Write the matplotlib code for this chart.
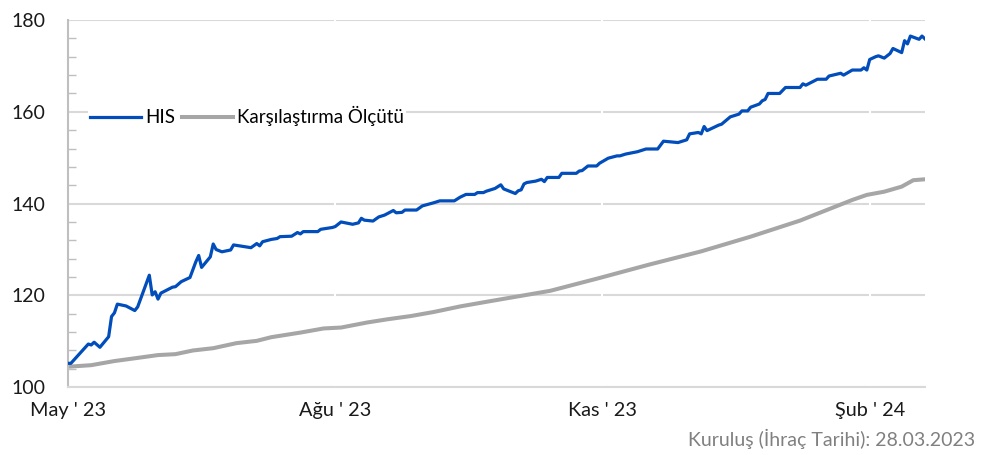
import numpy as np
import pandas as pd
import matplotlib
matplotlib.use("Agg")
import matplotlib.pyplot as plt
from matplotlib.ticker import MultipleLocator

plt.rcParams['font.family'] = ['Lato', 'DejaVu Sans']

# HIS fon fiyati
his_tarih = [
    "2023-05-01", "2023-05-02", "2023-05-04", "2023-05-08", "2023-05-09", "2023-05-10",
    "2023-05-12", "2023-05-15", "2023-05-16", "2023-05-17", "2023-05-18", "2023-05-21",
    "2023-05-24", "2023-05-25", "2023-05-29", "2023-05-30", "2023-05-31", "2023-06-01",
    "2023-06-02", "2023-06-06", "2023-06-07", "2023-06-09", "2023-06-12", "2023-06-14",
    "2023-06-15", "2023-06-16", "2023-06-19", "2023-06-20", "2023-06-21", "2023-06-23",
    "2023-06-26", "2023-06-27", "2023-07-03", "2023-07-05", "2023-07-06", "2023-07-07",
    "2023-07-10", "2023-07-12", "2023-07-13", "2023-07-17", "2023-07-19", "2023-07-20",
    "2023-07-21", "2023-07-26", "2023-07-27", "2023-07-31", "2023-08-01", "2023-08-03",
    "2023-08-07", "2023-08-09", "2023-08-10", "2023-08-11", "2023-08-14", "2023-08-16",
    "2023-08-18", "2023-08-21", "2023-08-22", "2023-08-24", "2023-08-25", "2023-08-29",
    "2023-08-31", "2023-09-04", "2023-09-06", "2023-09-11", "2023-09-13", "2023-09-15",
    "2023-09-18", "2023-09-19", "2023-09-21", "2023-09-22", "2023-09-25", "2023-09-27",
    "2023-09-28", "2023-10-02", "2023-10-03", "2023-10-04", "2023-10-05", "2023-10-06",
    "2023-10-09", "2023-10-11", "2023-10-12", "2023-10-13", "2023-10-17", "2023-10-18",
    "2023-10-23", "2023-10-24", "2023-10-25", "2023-10-27", "2023-10-30", "2023-10-31",
    "2023-11-03", "2023-11-06", "2023-11-07", "2023-11-09", "2023-11-13", "2023-11-14",
    "2023-11-16", "2023-11-20", "2023-11-22", "2023-11-27", "2023-11-28", "2023-11-30",
    "2023-12-01", "2023-12-04", "2023-12-05", "2023-12-06", "2023-12-07", "2023-12-11",
    "2023-12-12", "2023-12-15", "2023-12-18", "2023-12-19", "2023-12-21", "2023-12-22",
    "2023-12-25", "2023-12-26", "2023-12-27", "2023-12-28", "2024-01-01", "2024-01-03",
    "2024-01-08", "2024-01-09", "2024-01-10", "2024-01-14", "2024-01-17", "2024-01-18",
    "2024-01-22", "2024-01-23", "2024-01-26", "2024-01-29", "2024-01-30", "2024-01-31",
    "2024-02-01", "2024-02-03", "2024-02-04", "2024-02-06", "2024-02-08", "2024-02-09",
    "2024-02-12", "2024-02-13", "2024-02-14", "2024-02-15", "2024-02-18", "2024-02-19",
    "2024-02-20",
]
his_deger = [
    105.2, 105.2, 106.6, 109.4, 109.2, 109.8,
    108.7, 111.0, 115.4, 116.2, 118.1, 117.7,
    116.7, 117.5, 124.4, 120.1, 120.8, 119.2,
    120.5, 121.8, 121.9, 123.0, 123.9, 127.3,
    128.7, 126.1, 128.4, 131.2, 130.0, 129.5,
    129.9, 131.0, 130.4, 131.3, 130.8, 131.7,
    132.2, 132.4, 132.8, 132.9, 133.7, 133.4,
    133.9, 133.9, 134.4, 134.8, 135.0, 136.0,
    135.5, 135.8, 136.8, 136.4, 136.2, 137.1,
    137.5, 138.5, 138.0, 138.1, 138.6, 138.6,
    139.5, 140.2, 140.6, 140.6, 141.4, 142.0,
    142.0, 142.4, 142.4, 142.7, 143.3, 144.1,
    143.2, 142.2, 142.8, 143.0, 144.3, 144.6,
    144.9, 145.3, 144.8, 145.7, 145.7, 146.6,
    146.6, 147.1, 147.2, 148.2, 148.2, 148.8,
    149.9, 150.4, 150.4, 150.8, 151.3, 151.5,
    151.9, 151.9, 153.6, 153.3, 153.5, 153.9,
    155.2, 155.5, 155.2, 156.8, 155.9, 157.1,
    157.3, 158.9, 159.5, 160.2, 160.2, 161.0,
    161.7, 162.4, 162.7, 164.0, 164.0, 165.3,
    165.3, 166.1, 165.8, 167.1, 167.1, 167.8,
    168.4, 168.0, 169.1, 169.1, 169.6, 169.1,
    171.4, 172.0, 172.2, 171.7, 172.7, 173.8,
    172.9, 175.5, 174.8, 176.5, 175.8, 176.5,
    175.9,
]

# Karsilastirma olcutu
kiyas_tarih = [
    "2023-05-01", "2023-05-02", "2023-05-09", "2023-05-17", "2023-05-24", "2023-06-01",
    "2023-06-07", "2023-06-13", "2023-06-20", "2023-06-28", "2023-07-05", "2023-07-10",
    "2023-07-20", "2023-07-28", "2023-08-03", "2023-08-12", "2023-08-19", "2023-08-27",
    "2023-09-04", "2023-09-13", "2023-09-22", "2023-10-14", "2023-10-31", "2023-11-17",
    "2023-12-05", "2023-12-22", "2024-01-08", "2024-01-26", "2024-01-31", "2024-02-06",
    "2024-02-12", "2024-02-16", "2024-02-20",
]
kiyas_deger = [
    104.5, 104.5, 104.8, 105.7, 106.3, 107.0,
    107.2, 108.0, 108.5, 109.6, 110.1, 110.9,
    111.9, 112.8, 113.0, 114.1, 114.8, 115.5,
    116.4, 117.6, 118.6, 121.0, 123.8, 126.7,
    129.6, 132.8, 136.3, 140.8, 141.9, 142.6,
    143.7, 145.1, 145.3,
]

ay_tarih = ["2023-05-01", "2023-08-01", "2023-11-01", "2024-02-01"]
ay_etiket = ["May ' 23", "Ağu ' 23", "Kas ' 23", "Şub ' 24"]

mavi = "#004DBB"
gri = "#A6A6A6"

fig = plt.figure(figsize=(9.85, 4.55), dpi=100)
ax = fig.add_axes([0.069, 0.149, 0.870, 0.807])

ax.plot(pd.to_datetime(his_tarih), his_deger, color=mavi, lw=2.3, label="HIS", zorder=3)
ax.plot(pd.to_datetime(kiyas_tarih), kiyas_deger, color=gri, lw=2.9,
        label="Karşılaştırma Ölçütü", zorder=2)

ax.set_xlim(pd.Timestamp("2023-05-01"), pd.Timestamp("2024-02-20"))
ax.set_ylim(100, 180)

# eksenler
ax.set_yticks([100, 120, 140, 160, 180])
ax.yaxis.set_minor_locator(MultipleLocator(4))
ax.tick_params(axis="y", which="major", length=0, pad=16, labelsize=14, labelcolor="#1a1a1a")
ax.tick_params(axis="y", which="minor", direction="in", length=6, width=1, color="#bfbfbf")
ax.set_xticks(pd.to_datetime(ay_tarih))
ax.set_xticklabels(ay_etiket)
ax.tick_params(axis="x", length=0, pad=11, labelsize=14.3, labelcolor="#1a1a1a")

ax.grid(axis="y", color="#d9d9d9", lw=1.5)
ax.set_axisbelow(True)
for t in pd.to_datetime(ay_tarih):
    ax.axvline(t, color="white", lw=1.5, zorder=1)

for s in ["top", "right"]:
    ax.spines[s].set_visible(False)
ax.spines["left"].set_color("#bfbfbf")
ax.spines["left"].set_linewidth(1.5)
ax.spines["bottom"].set_color("#d9d9d9")
ax.spines["bottom"].set_linewidth(1.5)

leg = ax.legend(loc="center left", bbox_to_anchor=(0.023, 0.738), ncol=2,
                fontsize=13.5, frameon=True, facecolor="white", edgecolor="none",
                framealpha=1, fancybox=False, borderpad=0.1, borderaxespad=0,
                handlelength=2.75, handletextpad=0.22, columnspacing=0.35)

fig.text(0.99, 1 - 439 / 455, "Kuruluş (İhraç Tarihi): 28.03.2023", ha="right",
         va="center", fontsize=14, color="#808080")

fig.savefig("out.png", dpi=100)
